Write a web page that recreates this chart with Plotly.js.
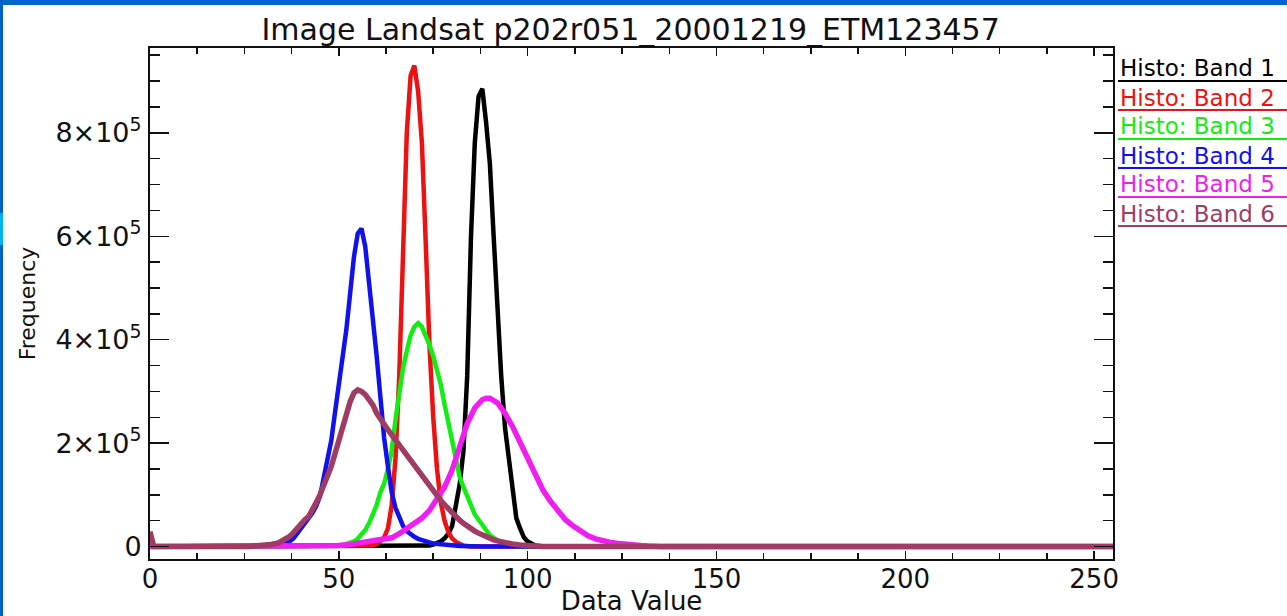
<!DOCTYPE html>
<html>
<head>
<meta charset="utf-8">
<script src="https://cdn.plot.ly/plotly-3.0.1.min.js"></script>
<style>
  html, body { margin: 0; padding: 0; background: #ffffff; }
  #wrap { position: relative; width: 1287px; height: 616px; overflow: hidden; }
  #chart { width: 1287px; height: 616px; }
  .bar-top { position: absolute; left: 0; top: 0; width: 1287px; height: 5px; background: #0066cc; }
  .bar-left { position: absolute; left: 0; top: 0; width: 3px; height: 616px; background: #0060c4; }
  .bar-left-hi { position: absolute; left: 0; top: 213px; width: 3px; height: 32px; background: #00b4f0; }
</style>
</head>
<body>
<div id="wrap">
  <div id="chart"></div>
  <div class="bar-top"></div>
  <div class="bar-left"></div>
  <div class="bar-left-hi"></div>
</div>
<script>
// ---------- data ----------
const chartTitle = "Image Landsat p202r051_20001219_ETM123457";
const xTitle = "Data Value";
const yTitle = "Frequency";
const bandNames = ["Histo: Band 1", "Histo: Band 2", "Histo: Band 3", "Histo: Band 4", "Histo: Band 5", "Histo: Band 6"];
const bandColors = ["#000000", "#ee1111", "#11ee11", "#1111ee", "#f01ef0", "#a03c64"];

const xTickVals = [0, 50, 100, 150, 200, 250];
const xTickText = ["0", "50", "100", "150", "200", "250"];
const yTickVals = [0, 200000, 400000, 600000, 800000];
const yTickText = ["0", "2×10<sup>5</sup>", "4×10<sup>5</sup>", "6×10<sup>5</sup>", "8×10<sup>5</sup>"];

// Band 1 (black)
const band1X = [0, 72, 73, 74, 75, 76, 77, 78, 79, 80, 81, 82, 83, 84, 85, 86, 87, 88, 89, 90, 91, 92, 93, 94, 95, 96, 97, 98, 99, 100, 101, 102, 103, 104, 255];
const band1Y = [0, 0, 1000, 2000, 4000, 6000, 10000, 16000, 25000, 40000, 75000, 120000, 185000, 330000, 600000, 780000, 870000, 885000, 820000, 740000, 600000, 450000, 330000, 230000, 170000, 100000, 55000, 35000, 18000, 10000, 5000, 2000, 1000, 0, 0];

// Band 2 (red)
const band2X = [0, 57, 58, 59, 60, 61, 62, 63, 64, 65, 66, 67, 68, 69, 70, 71, 72, 73, 74, 75, 76, 77, 78, 79, 80, 81, 82, 83, 84, 85, 255];
const band2Y = [0, 0, 1000, 2000, 5000, 10000, 18000, 35000, 80000, 170000, 330000, 600000, 800000, 910000, 930000, 880000, 780000, 590000, 390000, 250000, 150000, 85000, 50000, 28000, 16000, 9000, 5000, 2000, 1000, 0, 0];

// Band 3 (green)
const band3X = [0, 48, 49, 50, 51, 52, 53, 54, 55, 56, 57, 58, 59, 60, 61, 62, 63, 64, 65, 66, 67, 68, 69, 70, 71, 72, 73, 74, 75, 76, 77, 78, 79, 80, 81, 82, 83, 84, 85, 86, 87, 88, 89, 90, 91, 92, 93, 94, 95, 96, 97, 98, 255];
const band3Y = [0, 0, 1000, 2000, 3000, 5000, 7000, 10000, 15000, 22000, 32000, 45000, 60000, 80000, 105000, 122000, 150000, 185000, 245000, 300000, 345000, 378000, 408000, 425000, 432000, 425000, 410000, 390000, 368000, 342000, 313000, 275000, 240000, 200000, 170000, 135000, 115000, 95000, 80000, 62000, 52000, 40000, 30000, 22000, 17000, 12000, 8000, 5000, 3000, 2000, 1000, 0, 0];

// Band 4 (blue)
const band4X = [0, 32, 33, 34, 35, 36, 37, 38, 39, 40, 41, 42, 43, 44, 45, 46, 47, 48, 49, 50, 51, 52, 53, 54, 55, 56, 57, 58, 59, 60, 61, 62, 63, 64, 65, 66, 67, 68, 69, 70, 71, 72, 73, 74, 75, 76, 77, 78, 79, 80, 82, 85, 88, 255];
const band4Y = [0, 0, 1000, 2000, 3000, 6000, 10000, 16000, 25000, 35000, 45000, 55000, 65000, 78000, 97000, 130000, 165000, 205000, 260000, 310000, 360000, 420000, 490000, 560000, 605000, 615000, 580000, 510000, 455000, 370000, 290000, 210000, 155000, 105000, 75000, 55000, 40000, 30000, 24000, 19000, 15000, 12000, 10000, 8000, 6000, 5000, 4000, 3000, 2500, 2000, 1000, 500, 0, 0];

// Band 5 (magenta)
const band5X = [0, 40, 45, 50, 53, 56, 60, 62, 64, 66, 68, 70, 72, 74, 76, 78, 80, 82, 84, 86, 88, 89, 90, 92, 94, 96, 98, 100, 102, 104, 106, 108, 110, 112, 114, 116, 118, 120, 122, 124, 126, 128, 130, 132, 135, 255];
const band5Y = [0, 0, 1000, 2000, 4000, 7000, 11000, 14000, 17000, 25000, 35000, 45000, 55000, 70000, 92000, 115000, 148000, 190000, 238000, 268000, 284000, 287000, 287000, 278000, 258000, 232000, 200000, 170000, 138000, 110000, 88000, 68000, 52000, 40000, 30000, 21000, 15000, 11000, 8000, 6000, 4000, 3000, 2000, 1000, 0, 0];

// Band 6 (maroon)
const band6X = [0, 1, 26, 28, 30, 32, 34, 36, 37, 38, 39, 40, 41, 42, 43, 44, 45, 46, 47, 48, 49, 50, 51, 52, 53, 54, 55, 56, 57, 58, 59, 60, 61, 62, 63, 64, 65, 66, 67, 68, 69, 70, 71, 72, 73, 74, 75, 76, 77, 78, 79, 80, 81, 82, 83, 84, 85, 86, 87, 88, 89, 90, 91, 92, 93, 94, 95, 96, 98, 100, 102, 104, 255];
const band6Y = [29000, 0, 0, 1000, 2000, 4000, 7000, 14000, 20000, 27000, 36000, 45000, 52000, 58000, 70000, 85000, 100000, 117000, 135000, 155000, 180000, 207000, 233000, 258000, 280000, 297000, 303000, 300000, 294000, 284000, 274000, 258000, 246000, 236000, 226000, 216000, 206000, 196000, 186000, 176000, 166000, 156000, 146000, 136000, 126000, 116000, 106000, 97000, 89000, 81000, 73000, 65000, 58000, 51000, 45000, 39000, 34000, 30000, 26000, 22000, 19000, 16000, 13000, 11000, 9000, 7000, 6000, 5000, 3000, 1500, 500, 0, 0];

const bandXs = [band1X, band2X, band3X, band4X, band5X, band6X];
const bandYs = [band1Y, band2Y, band3Y, band4Y, band5Y, band6Y];

// ---------- styling ----------
const FONT = "DejaVu Sans, Liberation Sans, sans-serif";
const INK = "#111111";
const lineWidths = [4.5, 4.5, 4.5, 4.5, 5.5, 5.5];

const traces = bandNames.map((name, i) => ({
  type: "scatter",
  mode: "lines",
  name: name,
  x: bandXs[i],
  y: bandYs[i],
  line: { color: bandColors[i], width: lineWidths[i], shape: "linear" },
  hoverinfo: "skip",
  cliponaxis: true
}));

const xMinor = [];
for (let v = 0; v <= 255; v += 12.5) xMinor.push(v);
const yMinor = [];
for (let v = 0; v <= 960000; v += 50000) yMinor.push(v);

const M = { l: 150, r: 174, t: 48, b: 57 };
const plotH = 616 - M.t - M.b;
const plotW = 1287 - M.l - M.r;
const pxToPaperY = py => (616 - M.b - py) / plotH;
const pxToPaperX = px => (px - M.l) / plotW;

const annotations = bandNames.map((name, i) => ({
  xref: "paper", yref: "paper",
  x: pxToPaperX(1118), y: pxToPaperY(68.5 + 29 * i),
  xanchor: "left", yanchor: "middle",
  text: name, showarrow: false,
  font: { family: FONT, size: 23, color: bandColors[i] }
}));
const shapes = bandNames.map((name, i) => ({
  type: "line", xref: "paper", yref: "paper",
  x0: pxToPaperX(1118), x1: pxToPaperX(1290),
  y0: pxToPaperY(81 + 29 * i), y1: pxToPaperY(81 + 29 * i),
  line: { color: bandColors[i], width: 2 }
}));

const layout = {
  width: 1287, height: 616,
  margin: M,
  paper_bgcolor: "#ffffff",
  plot_bgcolor: "#ffffff",
  showlegend: false,
  font: { family: FONT, color: INK },
  title: {
    text: chartTitle,
    font: { family: FONT, size: 30, color: INK },
    x: 0.49, xref: "container", xanchor: "center",
    y: 1 - 29 / 616, yref: "container", yanchor: "middle"
  },
  xaxis: {
    range: [0, 255],
    tickmode: "array", tickvals: xTickVals, ticktext: xTickText,
    ticks: "inside", ticklen: 8, tickwidth: 1.5, tickcolor: INK,
    minor: { tickmode: "array", tickvals: xMinor, ticks: "inside", ticklen: 6, tickwidth: 1.5, tickcolor: INK },
    showline: true, linecolor: INK, linewidth: 2, mirror: "ticks",
    showgrid: false, zeroline: false,
    tickfont: { family: FONT, size: 26, color: INK },
    ticklabelstandoff: -4,
    title: { text: xTitle, font: { family: FONT, size: 26, color: INK }, standoff: 2 },
    fixedrange: true
  },
  yaxis: {
    range: [-24000, 964000],
    tickmode: "array", tickvals: yTickVals, ticktext: yTickText,
    ticks: "inside", ticklen: 19, tickwidth: 1.5, tickcolor: INK,
    minor: { tickmode: "array", tickvals: yMinor, ticks: "inside", ticklen: 10, tickwidth: 1.5, tickcolor: INK },
    showline: true, linecolor: INK, linewidth: 2, mirror: "ticks",
    showgrid: false, zeroline: false,
    tickfont: { family: FONT, size: 27, color: INK },
    ticklabelstandoff: 1,
    title: { text: yTitle, font: { family: FONT, size: 22, color: INK }, standoff: 14 },
    fixedrange: true
  },
  annotations: annotations,
  shapes: shapes
};

Plotly.newPlot("chart", traces, layout, { staticPlot: true, displayModeBar: false });
</script>
</body>
</html>
